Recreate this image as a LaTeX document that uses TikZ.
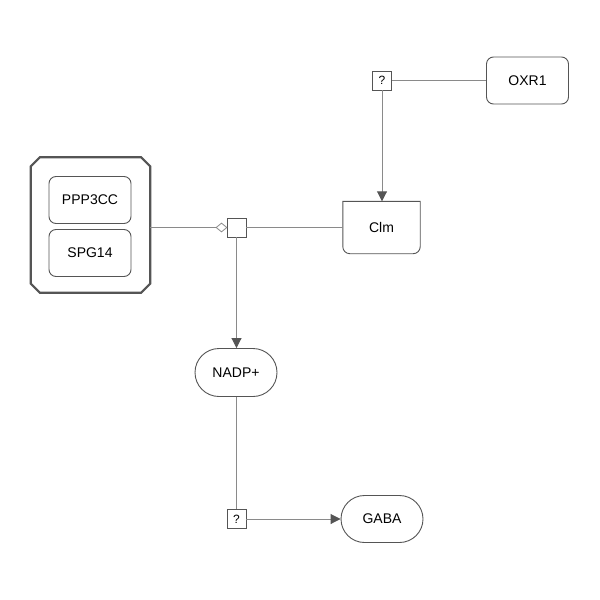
\documentclass[tikz,border=0pt]{standalone}
\usepackage{fontspec}
\setmainfont{Liberation Sans}
\usetikzlibrary{shapes.geometric,shapes.misc,arrows.meta}
\definecolor{edgegray}{HTML}{8A8A8A}
\definecolor{bordergray}{HTML}{555555}
\tikzset{
  x=1pt, y=-1pt,
  glyph/.style={draw=bordergray, line width=0.9pt, fill=white, inner sep=0pt, font=\fontsize{14}{16}\selectfont},
  macro/.style={glyph, rounded corners=7pt, minimum width=82pt, minimum height=47pt},
  simple/.style={glyph, rounded rectangle, minimum width=82pt, minimum height=48pt},
  procbox/.style={draw=bordergray, line width=0.8pt, fill=white, inner sep=0pt, minimum size=19pt, font=\fontsize{12}{13}\selectfont},
  link/.style={draw=edgegray, line width=0.9pt},
  stim/.style={link, -{Triangle[length=10pt, width=10pt, fill=bordergray, color=bordergray]}},
  modtip/.style={draw=edgegray, line width=0.8pt, fill=white, diamond, inner sep=0pt, minimum width=11pt, minimum height=9pt},
}
\begin{document}
\begin{tikzpicture}
\useasboundingbox (0,0) rectangle (600,600);

% complex outline with cut corners
\node[minimum width=119pt, minimum height=135pt, inner sep=0pt] (cplx) at (90.5,225) {};
\draw[bordergray, line width=2.2pt, line join=miter]
  ([xshift=9pt]cplx.north west) -- ([xshift=-9pt]cplx.north east)
  -- ([yshift=-9pt]cplx.north east) -- ([yshift=9pt]cplx.south east)
  -- ([xshift=-9pt]cplx.south east) -- ([xshift=9pt]cplx.south west)
  -- ([yshift=9pt]cplx.south west) -- ([yshift=-9pt]cplx.north west) -- cycle;
\node[macro] (ppp) at (90,200) {PPP3CC};
\node[macro] (spg) at (90,253) {SPG14};

% process nodes
\node[procbox] (proc) at (236.5,227.5) {};
\node[modtip] (mod) at (221.5,227.5) {};
\node[procbox] (q1) at (382,80.5) {?};
\node[procbox] (q2) at (236.5,519) {?};

% entity pool nodes
\node[macro] (oxr) at (527.5,80.5) {OXR1};
\node[minimum width=77pt, minimum height=52pt, inner sep=0pt, font=\fontsize{14}{16}\selectfont] (clm) at (381.5,227.5) {Clm};
\draw[bordergray, line width=0.9pt]
  (clm.north west) -- ([yshift=7pt]clm.south west) arc[start angle=180, end angle=270, radius=7pt]
  -- ([xshift=-7pt]clm.south east) arc[start angle=270, end angle=360, radius=7pt]
  -- (clm.north east) -- cycle;
\node[simple] (nadp) at (236,372.5) {NADP+};
\node[simple, minimum height=47pt] (gaba) at (382,519) {GABA};

% connectors
\draw[link] (cplx.east |- mod.west) -- (mod.west);
\draw[link] (proc.east) -- (clm.west);
\draw[stim] (proc.south) -- (proc.south |- nadp.north);
\draw[link] (q1.east) -- (oxr.west);
\draw[stim] (q1.south) -- (q1.south |- clm.north);
\draw[link] (nadp.south) -- (nadp.south -| q2.north) -- (q2.north);
\draw[stim] (q2.east) -- (gaba.west);
\end{tikzpicture}
\end{document}
